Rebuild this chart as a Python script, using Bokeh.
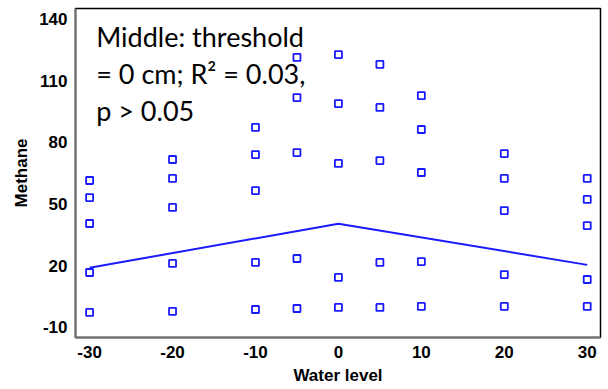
from bokeh.plotting import figure
from bokeh.models import FixedTicker, Label, Range1d, Title
from bokeh.embed import file_html
from bokeh.resources import INLINE

# Data
water_level = [-30]*5 + [-20]*5 + [-10]*5 + [-5]*5 + [0]*5 + [5]*5 + [10]*5 + [20]*5 + [30]*5
methane = [61.4, 53.1, 40.5, 16.7, -2.7,
           71.6, 62.4, 48.3, 21.1, -2.2,
           87.2, 74.0, 56.5, 21.6, -1.3,
           121.2, 101.7, 75.0, 23.5, -0.8,
           122.6, 98.8, 69.7, 14.3, -0.3,
           117.8, 96.9, 71.1, 21.6, -0.3,
           102.7, 86.2, 65.3, 22.0, 0.2,
           74.5, 62.4, 46.8, 15.7, 0.2,
           62.4, 52.2, 39.5, 13.3, 0.2]
fit_x = [-30, 0, 30]
fit_y = [19.0, 40.4, 20.4]
x_ticks = [-30, -20, -10, 0, 10, 20, 30]
y_ticks = [-10, 20, 50, 80, 110, 140]
note_lines = ["Middle: threshold", "= 0 cm; R\u00b2 = 0.03,", "p > 0.05"]

p = figure(width=608, height=389, output_backend="svg", toolbar_location=None,
           x_range=Range1d(-31.7, 31.6), y_range=Range1d(-14.9, 145.0),
           min_border_left=75, min_border_right=8, min_border_top=8, min_border_bottom=52)

p.xgrid.visible = False
p.ygrid.visible = False
p.outline_line_color = "black"
p.outline_line_width = 1.5

for ax in (p.xaxis[0], p.yaxis[0]):
    ax.major_tick_line_color = None
    ax.minor_tick_line_color = None
    ax.major_tick_out = 0
    ax.axis_line_color = "#707070"
    ax.axis_line_width = 2
    ax.major_label_text_font = "Liberation Sans"
    ax.major_label_text_font_style = "bold"
    ax.major_label_text_font_size = "17px"
    ax.major_label_text_color = "black"
    ax.major_label_standoff = 8

p.xaxis.ticker = FixedTicker(ticks=x_ticks)
p.yaxis.ticker = FixedTicker(ticks=y_ticks)
p.xaxis.major_label_overrides = {t: str(t) for t in x_ticks}
p.yaxis.major_label_overrides = {t: str(t) for t in y_ticks}

p.yaxis.axis_label = "Methane"
p.yaxis.axis_label_text_font = "Liberation Sans"
p.yaxis.axis_label_text_font_style = "bold"
p.yaxis.axis_label_text_font_size = "17px"
p.yaxis.axis_label_text_color = "black"
p.yaxis.axis_label_standoff = 5

p.line(fit_x, fit_y, line_color="#1a1aff", line_width=2)
p.scatter(water_level, methane, marker="square", size=7, line_color="#1a1aff",
          line_width=1.8, fill_color="white")

# x axis title (offset left in reference)
p.add_layout(Title(text="Water level", align="center", offset=-23, standoff=7,
                   text_font="Liberation Sans", text_font_style="bold",
                   text_font_size="17px", text_color="black"), "below")

note_y = [131.5, 113.5, 95.5]
for t, yy in zip(note_lines, note_y):
    p.add_layout(Label(x=-29.2, y=yy, text=t, text_align="left", text_baseline="alphabetic",
                       text_font="Lato", text_font_size="27px", text_color="black"))

open("out.html", "w").write(file_html(p, INLINE))
